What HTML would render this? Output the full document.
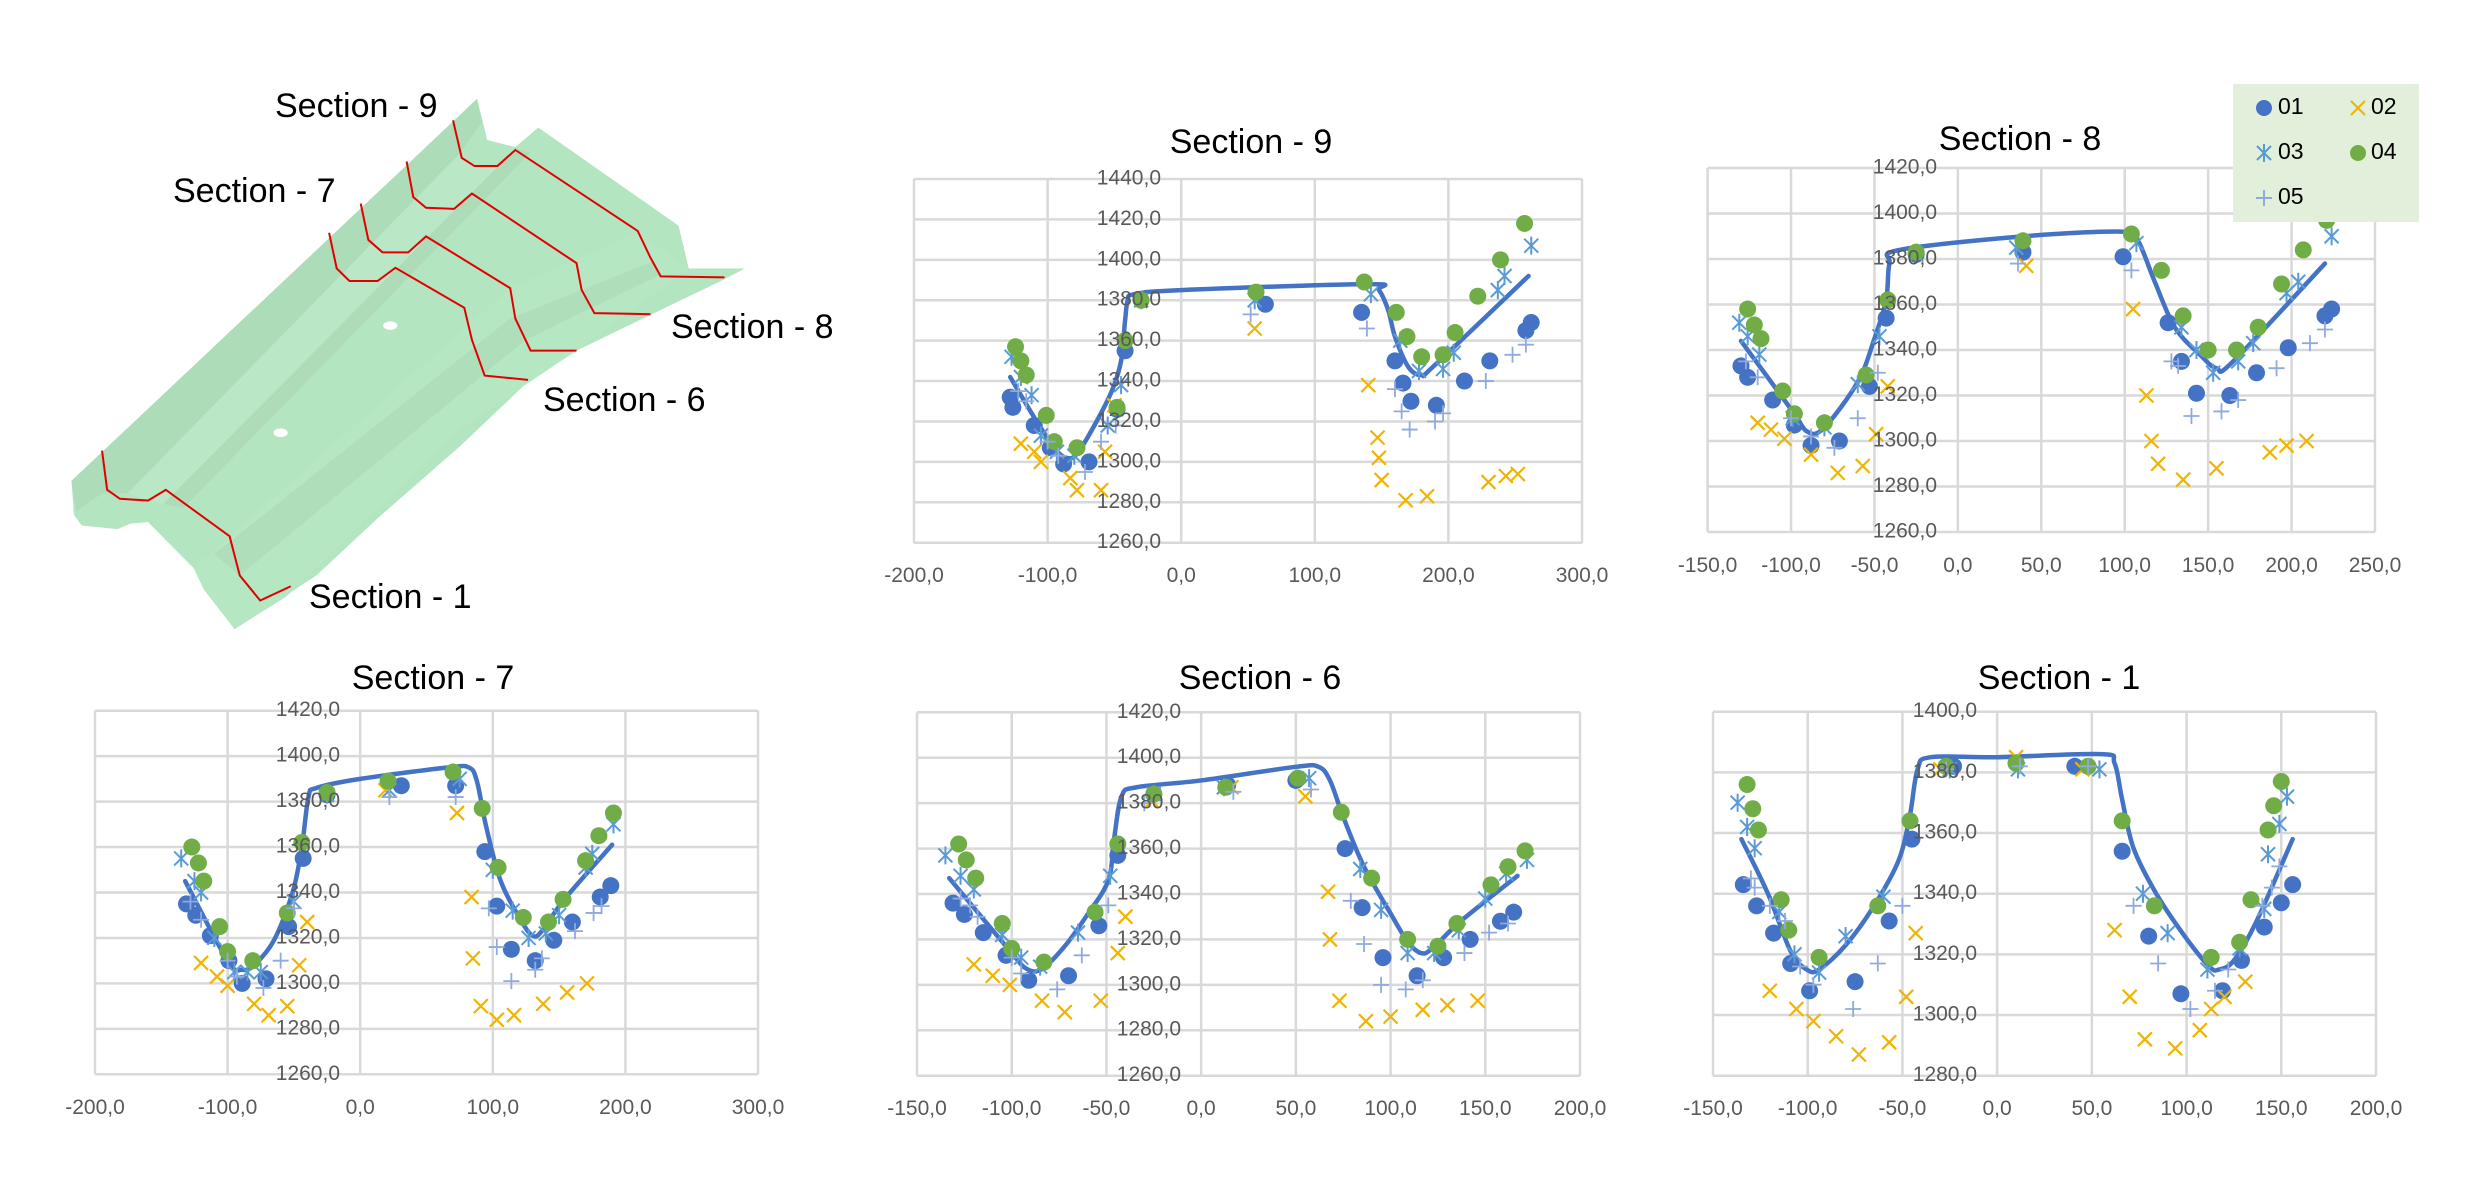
<!DOCTYPE html>
<html><head><meta charset="utf-8"><style>
html,body{margin:0;padding:0;background:#fff;}
svg{display:block;}
.t{font-family:"Liberation Sans",sans-serif;font-size:34px;fill:#000;}
.y{font-family:"Liberation Sans",sans-serif;font-size:21px;fill:#595959;text-anchor:end;dominant-baseline:middle;}
.x{font-family:"Liberation Sans",sans-serif;font-size:21px;fill:#595959;text-anchor:middle;}
.l{font-family:"Liberation Sans",sans-serif;font-size:23px;fill:#000;dominant-baseline:middle;}
.g line{stroke:#d9d9d9;stroke-width:2.5;}
</style></head><body>
<svg id="s" width="2480" height="1198" viewBox="0 0 2480 1198" xmlns="http://www.w3.org/2000/svg">
<rect width="2480" height="1198" fill="#fff"/>
<!-- 3D part -->
<g transform="translate(0,90) scale(0.5102,0.357)">
<path d="M140,1095 L935,25 L955,140 L1010,160 L1055,105 L1330,380 L1350,500 L1460,500 L1420,530 L1130,730 L1040,810 L900,1000 L740,1200 L620,1360 L460,1510 L400,1400 L380,1340 L290,1210 L255,1215 L230,1230 L160,1220 L145,1190 Z" fill="#b4e5c1"/>
<path d="M140,1095 L935,25 L945,90 L900,180 L250,1130 L200,1130 L150,1180 Z" fill="#acdcb8"/>
<path d="M250,1130 L900,180 L930,215 L980,215 L320,1160 Z" fill="#bae8c6"/>
<path d="M320,1160 L1010,165 L1040,175 L360,1170 Z" fill="#aedcb9"/>
<path d="M380,1340 L450,1250 L1000,555 L1250,400 L1350,500 L1130,730 L900,950 L560,1420 L460,1510 L400,1400 Z" fill="#b6e7c3"/>
<path d="M420,1300 L470,1360 L1030,700 L1290,520 L1280,480 L1000,640 Z" fill="#aedfba"/>
<ellipse cx="765" cy="660" rx="14" ry="12" fill="#fff"/>
<ellipse cx="550" cy="960" rx="14" ry="12" fill="#fff"/>
<g fill="none" stroke="#e00000" stroke-width="2">
<polyline vector-effect="non-scaling-stroke" points="888,85 905,190 930,213 975,213 1010,168 1250,395 1275,470 1295,522 1420,525"/>
<polyline vector-effect="non-scaling-stroke" points="797,200 810,300 835,330 890,333 925,290 1130,485 1140,560 1165,625 1275,628"/>
<polyline vector-effect="non-scaling-stroke" points="707,318 722,420 750,455 800,455 835,410 1000,555 1010,640 1040,730 1130,730"/>
<polyline vector-effect="non-scaling-stroke" points="645,400 660,500 685,535 740,535 775,498 910,610 925,700 950,800 1035,812"/>
<polyline vector-effect="non-scaling-stroke" points="200,1010 210,1120 235,1145 290,1150 325,1120 450,1250 470,1360 510,1430 570,1390"/>
</g>
</g>
<text class="t" x="275" y="117">Section - 9</text>
<text class="t" x="173" y="202">Section - 7</text>
<text class="t" x="671" y="338">Section - 8</text>
<text class="t" x="543" y="411">Section - 6</text>
<text class="t" x="309" y="608">Section - 1</text>

<text class="t" x="1251" y="153" text-anchor="middle">Section - 9</text>
<text class="t" x="2020" y="150" text-anchor="middle">Section - 8</text>
<text class="t" x="433" y="689" text-anchor="middle">Section - 7</text>
<text class="t" x="1260" y="689" text-anchor="middle">Section - 6</text>
<text class="t" x="2059" y="689" text-anchor="middle">Section - 1</text>

<g id="grids" class="g"></g>
<g id="data"></g>

<text class="y" x="1161" y="179">1440,0</text><text class="y" x="1161" y="219.4">1420,0</text><text class="y" x="1161" y="259.8">1400,0</text><text class="y" x="1161" y="300.2">1380,0</text><text class="y" x="1161" y="340.7">1360,0</text><text class="y" x="1161" y="381.1">1340,0</text><text class="y" x="1161" y="421.5">1320,0</text><text class="y" x="1161" y="461.9">1300,0</text><text class="y" x="1161" y="502.3">1280,0</text><text class="y" x="1161" y="542.7">1260,0</text>
<text class="x" x="914" y="582">-200,0</text><text class="x" x="1047.6" y="582">-100,0</text><text class="x" x="1181.2" y="582">0,0</text><text class="x" x="1314.8" y="582">100,0</text><text class="x" x="1448.4" y="582">200,0</text><text class="x" x="1582" y="582">300,0</text>
<text class="y" x="1937" y="168">1420,0</text><text class="y" x="1937" y="213.5">1400,0</text><text class="y" x="1937" y="259">1380,0</text><text class="y" x="1937" y="304.5">1360,0</text><text class="y" x="1937" y="350">1340,0</text><text class="y" x="1937" y="395.5">1320,0</text><text class="y" x="1937" y="441">1300,0</text><text class="y" x="1937" y="486.5">1280,0</text><text class="y" x="1937" y="532">1260,0</text>
<text class="x" x="1707.6" y="572">-150,0</text><text class="x" x="1791" y="572">-100,0</text><text class="x" x="1874.5" y="572">-50,0</text><text class="x" x="1957.9" y="572">0,0</text><text class="x" x="2041.3" y="572">50,0</text><text class="x" x="2124.7" y="572">100,0</text><text class="x" x="2208.1" y="572">150,0</text><text class="x" x="2291.6" y="572">200,0</text><text class="x" x="2375" y="572">250,0</text>
<text class="y" x="340" y="710.7">1420,0</text><text class="y" x="340" y="756.2">1400,0</text><text class="y" x="340" y="801.6">1380,0</text><text class="y" x="340" y="847.1">1360,0</text><text class="y" x="340" y="892.5">1340,0</text><text class="y" x="340" y="938">1320,0</text><text class="y" x="340" y="983.4">1300,0</text><text class="y" x="340" y="1028.9">1280,0</text><text class="y" x="340" y="1074.3">1260,0</text>
<text class="x" x="95" y="1114">-200,0</text><text class="x" x="227.6" y="1114">-100,0</text><text class="x" x="360.2" y="1114">0,0</text><text class="x" x="492.8" y="1114">100,0</text><text class="x" x="625.4" y="1114">200,0</text><text class="x" x="758" y="1114">300,0</text>
<text class="y" x="1181" y="712.3">1420,0</text><text class="y" x="1181" y="757.7">1400,0</text><text class="y" x="1181" y="803.1">1380,0</text><text class="y" x="1181" y="848.5">1360,0</text><text class="y" x="1181" y="894">1340,0</text><text class="y" x="1181" y="939.4">1320,0</text><text class="y" x="1181" y="984.8">1300,0</text><text class="y" x="1181" y="1030.2">1280,0</text><text class="y" x="1181" y="1075.7">1260,0</text>
<text class="x" x="917" y="1115">-150,0</text><text class="x" x="1011.7" y="1115">-100,0</text><text class="x" x="1106.4" y="1115">-50,0</text><text class="x" x="1201.1" y="1115">0,0</text><text class="x" x="1295.9" y="1115">50,0</text><text class="x" x="1390.6" y="1115">100,0</text><text class="x" x="1485.3" y="1115">150,0</text><text class="x" x="1580" y="1115">200,0</text>
<text class="y" x="1977" y="711.7">1400,0</text><text class="y" x="1977" y="772.4">1380,0</text><text class="y" x="1977" y="833">1360,0</text><text class="y" x="1977" y="893.7">1340,0</text><text class="y" x="1977" y="954.4">1320,0</text><text class="y" x="1977" y="1015">1300,0</text><text class="y" x="1977" y="1075.7">1280,0</text>
<text class="x" x="1713" y="1115">-150,0</text><text class="x" x="1807.7" y="1115">-100,0</text><text class="x" x="1902.4" y="1115">-50,0</text><text class="x" x="1997.1" y="1115">0,0</text><text class="x" x="2091.9" y="1115">50,0</text><text class="x" x="2186.6" y="1115">100,0</text><text class="x" x="2281.3" y="1115">150,0</text><text class="x" x="2376" y="1115">200,0</text>

<rect x="2233" y="84" width="186" height="138" fill="#e2efda"/>
<circle cx="2264" cy="108" r="8" fill="#4472c4"/>
<text class="l" x="2278" y="108">01</text>
<g stroke="#f0b400" stroke-width="2"><line x1="2351" y1="101" x2="2365" y2="115"/><line x1="2365" y1="101" x2="2351" y2="115"/></g>
<text class="l" x="2371" y="108">02</text>
<g stroke="#5b9bd5" stroke-width="2"><line x1="2257" y1="146" x2="2271" y2="160"/><line x1="2271" y1="146" x2="2257" y2="160"/><line x1="2264" y1="144" x2="2264" y2="162"/></g>
<text class="l" x="2278" y="153">03</text>
<circle cx="2358" cy="153" r="8" fill="#70ad47"/>
<text class="l" x="2371" y="153">04</text>
<g stroke="#8faadc" stroke-width="2"><line x1="2256" y1="198" x2="2272" y2="198"/><line x1="2264" y1="190" x2="2264" y2="206"/></g>
<text class="l" x="2278" y="198">05</text>
</svg>
<script>
var NS="http://www.w3.org/2000/svg";
function el(p,t,a){var e=document.createElementNS(NS,t);for(var k in a)e.setAttribute(k,a[k]);p.appendChild(e);return e;}
var G=document.getElementById('grids'),D=document.getElementById('data');
var charts=[
{x0:-200,x1:300,xs:100,px0:914,px1:1582,y0:1260,y1:1440,ys:20,py0:542.7,py1:179,
line:[[-128,1342],[-110,1322],[-95,1307],[-86,1302],[-78,1304],[-65,1318],[-52,1335],[-45,1350],[-42,1370],[-40,1380],[-35,1383],[0,1385],[140,1388],[148,1385],[155,1375],[160,1362],[170,1347],[180,1343],[190,1348],[260,1392]],
s:[[[-128,1332],[-126,1327],[-110,1318],[-98,1307],[-88,1299],[-69,1300],[-42,1355],[-48,1326],[63,1378],[135,1374],[160,1350],[166,1339],[172,1330],[191,1328],[212,1340],[231,1350],[258,1365],[262,1369]],
[[-120,1309],[-110,1305],[-105,1300],[-83,1292],[-78,1286],[-60,1286],[-57,1305],[-50,1328],[55,1366],[140,1338],[147,1312],[148,1302],[150,1291],[168,1281],[184,1283],[230,1290],[243,1293],[252,1294]],
[[-127,1352],[-120,1342],[-112,1333],[-105,1313],[-93,1305],[-80,1303],[-55,1318],[-45,1338],[-30,1380],[55,1380],[142,1383],[164,1360],[178,1345],[196,1346],[204,1354],[237,1385],[242,1392],[262,1407]],
[[-124,1357],[-120,1350],[-116,1343],[-101,1323],[-95,1310],[-78,1307],[-48,1327],[-42,1360],[-30,1380],[56,1384],[137,1389],[161,1374],[169,1362],[180,1352],[196,1353],[205,1364],[222,1382],[239,1400],[257,1418]],
[[-122,1335],[-116,1330],[-100,1310],[-92,1303],[-72,1295],[-60,1310],[-49,1318],[52,1373],[139,1366],[160,1336],[165,1325],[171,1316],[190,1320],[196,1324],[228,1340],[248,1353],[258,1358]]]},
{x0:-150,x1:250,xs:50,px0:1707.6,px1:2375,y0:1260,y1:1420,ys:20,py0:532,py1:168,
line:[[-130,1344],[-100,1314],[-90,1304],[-80,1306],[-60,1326],[-50,1345],[-43,1362],[-41,1378],[-35,1384],[40,1390],[100,1392],[108,1388],[118,1370],[130,1350],[145,1338],[155,1332],[165,1335],[220,1378]],
s:[[[-130,1333],[-126,1328],[-111,1318],[-98,1307],[-88,1298],[-71,1300],[-53,1324],[-43,1354],[-25,1382],[39,1383],[99,1381],[126,1352],[134,1335],[143,1321],[163,1320],[179,1330],[198,1341],[220,1355],[224,1358]],
[[-120,1308],[-112,1305],[-104,1301],[-88,1294],[-72,1286],[-57,1289],[-49,1303],[-42,1324],[41,1377],[105,1358],[113,1320],[116,1300],[120,1290],[135,1283],[155,1288],[187,1295],[197,1298],[209,1300]],
[[-131,1352],[-126,1346],[-119,1338],[-99,1310],[-80,1306],[-60,1325],[-47,1346],[-25,1382],[35,1385],[107,1387],[134,1350],[143,1340],[153,1330],[168,1335],[177,1343],[197,1365],[204,1370],[224,1390]],
[[-126,1358],[-122,1351],[-118,1345],[-105,1322],[-98,1312],[-80,1308],[-55,1329],[-42,1362],[-25,1383],[39,1388],[104,1391],[122,1375],[135,1355],[150,1340],[167,1340],[180,1350],[194,1369],[207,1384],[221,1397]],
[[-127,1335],[-120,1328],[-100,1310],[-88,1302],[-74,1297],[-60,1310],[-48,1330],[36,1378],[104,1375],[128,1335],[132,1333],[140,1311],[158,1313],[168,1318],[191,1332],[211,1343],[220,1349]]]},
{x0:-200,x1:300,xs:100,px0:95,px1:758,y0:1260,y1:1420,ys:20,py0:1074.3,py1:710.7,
line:[[-132,1345],[-100,1310],[-89,1306],[-80,1308],[-65,1319],[-51,1340],[-44,1360],[-39,1382],[-33,1386],[0,1390],[66,1395],[82,1395],[88,1389],[95,1369],[106,1345],[121,1328],[130,1321],[137,1323],[154,1337],[190,1361]],
s:[[[-131,1335],[-124,1330],[-113,1321],[-99,1310],[-89,1300],[-71,1302],[-54,1325],[-43,1355],[-25,1383],[31,1387],[72,1387],[94,1358],[103,1334],[114,1315],[132,1310],[146,1319],[160,1327],[181,1338],[189,1343]],
[[-120,1309],[-108,1303],[-100,1299],[-80,1291],[-69,1286],[-55,1290],[-46,1308],[-40,1327],[19,1385],[73,1375],[84,1338],[85,1311],[91,1290],[103,1284],[116,1286],[138,1291],[156,1296],[171,1300]],
[[-135,1355],[-125,1345],[-120,1340],[-110,1320],[-95,1305],[-85,1305],[-75,1305],[-50,1336],[-25,1383],[22,1385],[75,1390],[100,1350],[115,1332],[127,1320],[140,1322],[150,1330],[170,1351],[175,1357],[191,1370]],
[[-127,1360],[-122,1353],[-118,1345],[-106,1325],[-100,1314],[-81,1310],[-55,1331],[-44,1362],[-25,1384],[21,1389],[70,1393],[92,1377],[104,1351],[123,1329],[142,1327],[153,1337],[170,1354],[180,1365],[191,1375]],
[[-128,1336],[-120,1328],[-100,1310],[-93,1303],[-73,1298],[-60,1310],[-50,1333],[22,1382],[72,1382],[97,1333],[103,1316],[114,1301],[132,1306],[137,1311],[162,1323],[176,1331],[182,1334]]]},
{x0:-150,x1:200,xs:50,px0:917,px1:1580,y0:1260,y1:1420,ys:20,py0:1075.7,py1:712.3,
line:[[-133,1347],[-101,1315],[-92,1307],[-84,1307],[-72,1317],[-60,1331],[-49,1346],[-46,1364],[-42,1383],[-34,1387],[0,1390],[50,1396],[62,1396],[68,1390],[75,1374],[86,1352],[101,1330],[109,1319],[116,1314],[122,1316],[137,1328],[167,1348]],
s:[[[-131,1336],[-125,1331],[-115,1323],[-103,1313],[-91,1302],[-70,1304],[-54,1326],[-44,1357],[-25,1384],[14,1388],[50,1390],[76,1360],[85,1334],[96,1312],[114,1304],[128,1312],[142,1320],[158,1328],[165,1332]],
[[-120,1309],[-110,1304],[-101,1300],[-84,1293],[-72,1288],[-53,1293],[-44,1314],[-40,1330],[-26,1381],[16,1387],[55,1383],[67,1341],[68,1320],[73,1293],[87,1284],[100,1286],[117,1289],[130,1291],[146,1293]],
[[-135,1357],[-127,1348],[-120,1342],[-105,1322],[-95,1312],[-85,1308],[-65,1323],[-48,1348],[-25,1384],[12,1387],[57,1391],[84,1351],[95,1333],[109,1314],[123,1314],[136,1324],[150,1338],[161,1349],[172,1355]],
[[-128,1362],[-124,1355],[-119,1347],[-105,1327],[-100,1316],[-83,1310],[-56,1332],[-44,1362],[-25,1384],[13,1387],[51,1391],[74,1376],[90,1347],[109,1320],[125,1317],[135,1327],[153,1344],[162,1352],[171,1359]],
[[-127,1338],[-122,1335],[-118,1330],[-100,1312],[-95,1305],[-76,1298],[-63,1313],[-49,1335],[-30,1380],[17,1385],[58,1386],[79,1337],[86,1318],[95,1300],[108,1298],[117,1302],[139,1314],[152,1323],[162,1327]]]},
{x0:-150,x1:200,xs:50,px0:1713,px1:2376,y0:1280,y1:1400,ys:20,py0:1075.7,py1:711.7,
line:[[-135,1358],[-121,1340],[-109,1321],[-100.5,1315],[-94,1315],[-80,1323],[-65,1336],[-52,1351],[-46,1366],[-42,1381],[-35,1385],[0,1385],[55,1386],[62,1383],[66,1371],[72,1355],[84,1340],[99,1326],[112,1316],[117,1315],[125,1318],[137,1331],[156,1358]],
s:[[[-134,1343],[-127,1336],[-118,1327],[-109,1317],[-99,1308],[-75,1311],[-57,1331],[-45,1358],[-23,1382],[10,1383],[41,1382],[66,1354],[80,1326],[97,1307],[119,1308],[129,1318],[141,1329],[150,1337],[156,1343]],
[[-120,1308],[-106,1302],[-97,1298],[-85,1293],[-73,1287],[-57,1291],[-48,1306],[-43,1327],[-30,1381],[10,1385],[45,1381],[62,1328],[70,1306],[78,1292],[94,1289],[107,1295],[113,1302],[120,1306],[131,1311]],
[[-137,1370],[-132,1362],[-128,1355],[-115,1334],[-107,1320],[-94,1314],[-80,1326],[-60,1339],[-25,1381],[11,1381],[54,1381],[77,1340],[90,1327],[111,1315],[128,1322],[141,1335],[143,1353],[149,1363],[153,1372]],
[[-132,1376],[-129,1368],[-126,1361],[-114,1338],[-110,1328],[-94,1319],[-63,1336],[-46,1364],[-27,1382],[10,1383],[48,1382],[66,1364],[83,1336],[113,1319],[128,1324],[134,1338],[143,1361],[146,1369],[150,1377]],
[[-130,1345],[-128,1342],[-120,1336],[-112,1331],[-104,1316],[-97,1310],[-76,1302],[-63,1317],[-50,1336],[-27,1381],[12,1382],[48,1382],[72,1336],[85,1317],[102,1302],[115,1308],[122,1315],[140,1336],[145,1342],[149,1349]]]}
];
charts.forEach(function(c){
 function X(v){return c.px0+(v-c.x0)/(c.x1-c.x0)*(c.px1-c.px0);}
 function Y(v){return c.py0+(v-c.y0)/(c.y1-c.y0)*(c.py1-c.py0);}
 for(var v=c.y0;v<=c.y1+0.01;v+=c.ys)el(G,'line',{x1:c.px0,x2:c.px1,y1:Y(v),y2:Y(v)});
 for(var v=c.x0;v<=c.x1+0.01;v+=c.xs)el(G,'line',{x1:X(v),x2:X(v),y1:c.py0,y2:c.py1});
 var p=c.line.map(function(a){return [X(a[0]),Y(a[1])];});
 var d='M'+p[0][0]+','+p[0][1];
 for(var i=0;i<p.length-1;i++){var p0=p[i-1]||p[i],p1=p[i],p2=p[i+1],p3=p[i+2]||p2;
  d+=' C'+(p1[0]+(p2[0]-p0[0])/6)+','+(p1[1]+(p2[1]-p0[1])/6)+' '+(p2[0]-(p3[0]-p1[0])/6)+','+(p2[1]-(p3[1]-p1[1])/6)+' '+p2[0]+','+p2[1];}
 el(D,'path',{d:d,fill:'none',stroke:'#4472c4','stroke-width':4.5,'stroke-linecap':'round','stroke-linejoin':'round'});
 c.s.forEach(function(ser,k){ser.forEach(function(a){var x=X(a[0]),y=Y(a[1]);
  if(k==0)el(D,'circle',{cx:x,cy:y,r:8.5,fill:'#4472c4'});
  else if(k==3)el(D,'circle',{cx:x,cy:y,r:8.5,fill:'#70ad47'});
  else if(k==1){var s=7;el(D,'path',{d:'M'+(x-s)+','+(y-s)+'L'+(x+s)+','+(y+s)+'M'+(x+s)+','+(y-s)+'L'+(x-s)+','+(y+s),stroke:'#f0b400','stroke-width':2.2});}
  else if(k==2){var s=7;el(D,'path',{d:'M'+(x-s)+','+(y-s)+'L'+(x+s)+','+(y+s)+'M'+(x+s)+','+(y-s)+'L'+(x-s)+','+(y+s)+'M'+x+','+(y-9)+'L'+x+','+(y+9),stroke:'#5b9bd5','stroke-width':2});}
  else {var s=8;el(D,'path',{d:'M'+(x-s)+','+y+'L'+(x+s)+','+y+'M'+x+','+(y-s)+'L'+x+','+(y+s),stroke:'#8faadc','stroke-width':1.8});}
 });});
});
</script>
</body></html>
